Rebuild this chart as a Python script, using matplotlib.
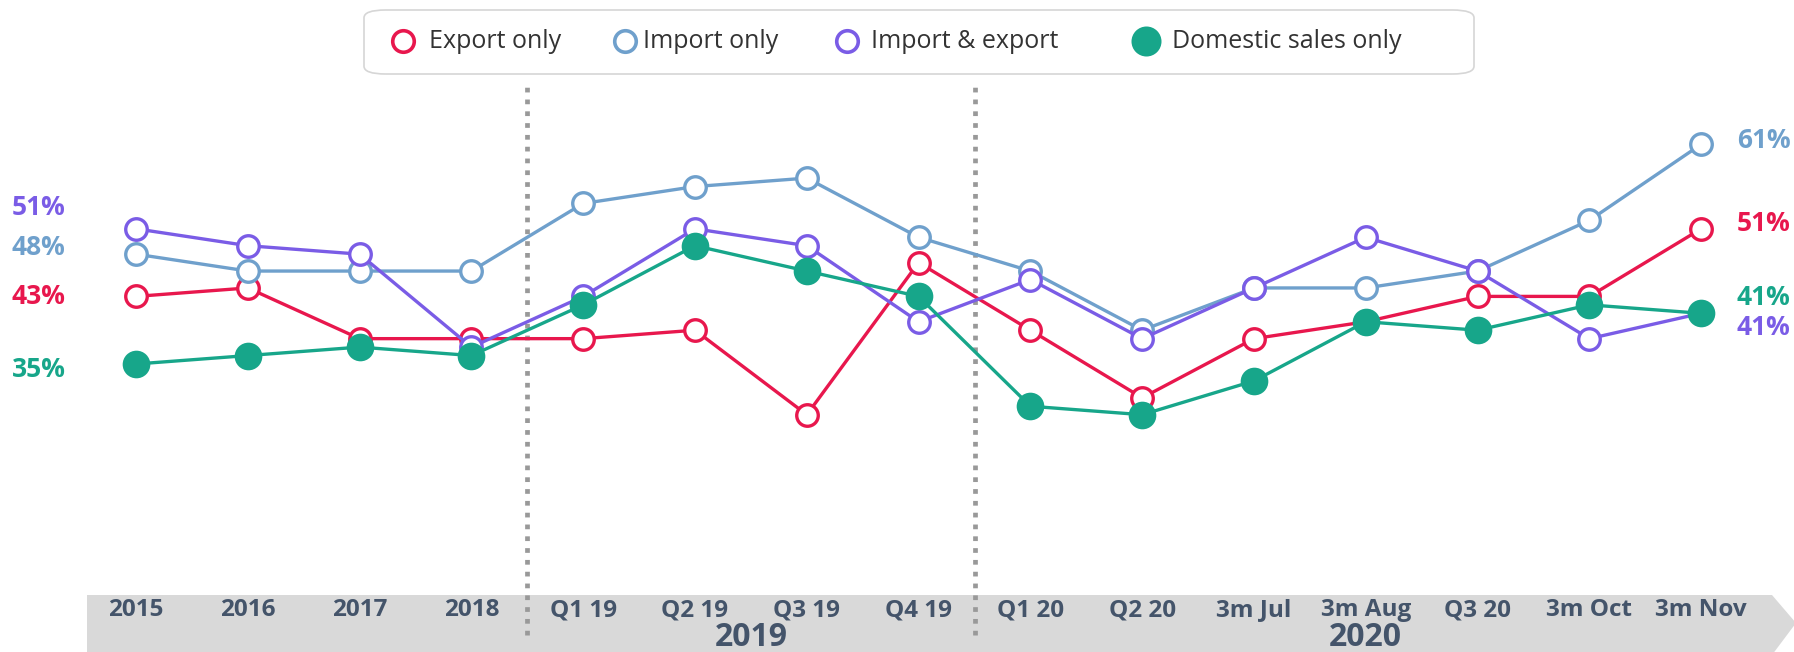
import matplotlib
matplotlib.use("Agg")
import matplotlib.pyplot as plt
from matplotlib.patches import Polygon, FancyBboxPatch
from matplotlib.lines import Line2D

plt.rcParams['font.family'] = ['Open Sans', 'DejaVu Sans']

# periods on the x axis
periods = ['2015', '2016', '2017', '2018', 'Q1 19', 'Q2 19', 'Q3 19', 'Q4 19',
           'Q1 20', 'Q2 20', '3m Jul', '3m Aug', 'Q3 20', '3m Oct', '3m Nov']
years = ['2019', '2020']

# share of firms (%)
export_only = [43, 44, 38, 38, 38, 39, 29, 47, 39, 31, 38, 40, 43, 43, 51]
import_only = [48, 46, 46, 46, 54, 56, 57, 50, 46, 39, 44, 44, 46, 52, 61]
import_export = [51, 49, 48, 37, 43, 51, 49, 40, 45, 38, 44, 50, 46, 38, 41]
domestic_only = [35, 36, 37, 36, 42, 49, 46, 43, 30, 29, 33, 40, 39, 42, 41]

RED = '#E8174D'
BLUE = '#6FA0CC'
PURPLE = '#7A5CE6'
TEAL = '#17A68A'
TICK = '#44546A'

W, H = 1794, 652
fig = plt.figure(figsize=(W / 100, H / 100), dpi=100)
ax = fig.add_axes([0, 0, 1, 1])
ax.set_axis_off()

# pixel mapping: index 0 at x=136px, step 111.8px; 35% at y=364px, 8.45px per point
step = 111.8
x0 = 136
ppt = 8.45
ax.set_xlim(-x0 / step, (W - x0) / step)
ax.set_ylim(35 - (H - 364) / ppt, 35 + 364 / ppt)

xs = list(range(len(periods)))
series = [
    ('Export only', export_only, RED, 'white'),
    ('Import only', import_only, BLUE, 'white'),
    ('Import & export', import_export, PURPLE, 'white'),
    ('Domestic sales only', domestic_only, TEAL, TEAL),
]


def px(xp, yp):
    return ((xp - x0) / step, 35 + (364 - yp) / ppt)


# grey arrow band at bottom
band = Polygon([px(87, 595), px(1772, 595), px(1796, 623), px(1772, 655), px(87, 655)],
               closed=True, facecolor='#D9D9D9', edgecolor='none', zorder=0)
ax.add_patch(band)

# dotted separators
ytop = px(0, 82)[1]
ybot = px(0, 635)[1]
for xv in [3.5, 7.5]:
    ax.plot([xv, xv], [ybot, ytop], color='#999999', lw=3.4,
            linestyle=(0, (1.0, 1.5)), zorder=1, solid_capstyle='butt')

for name, vals, col, fc in series:
    ms = 17.5 if fc != 'white' else 15.5
    ax.plot(xs, vals, color=col, lw=2.4, marker='o', markersize=ms,
            markerfacecolor=fc, markeredgecolor=col, markeredgewidth=2.4, zorder=3)

# tick labels on the band
for i, p in enumerate(periods):
    ax.text(i, px(0, 610)[1], p, ha='center', va='center',
            fontsize=17.5, fontweight='bold', color=TICK, zorder=5)
ax.text((4 + 7) / 2, px(0, 638)[1], years[0], ha='center', va='center',
        fontsize=23, fontweight='bold', color=TICK, zorder=5)
ax.text((8 + 14) / 2, px(0, 638)[1], years[1], ha='center', va='center',
        fontsize=23, fontweight='bold', color=TICK, zorder=5)

# start and end value labels
left_offsets = {'Export only': 0, 'Import only': 5, 'Import & export': 15.5,
                'Domestic sales only': -4}
right_offsets = {'Export only': 4, 'Import only': 3, 'Import & export': -10,
                 'Domestic sales only': 11.5}
for name, vals, col, fc in series:
    ax.annotate(f'{vals[0]}%', (0, vals[0]), xytext=(-70, left_offsets[name]),
                textcoords='offset points', ha='center', va='center',
                fontsize=19, fontweight='bold', color=col)
    ax.annotate(f'{vals[-1]}%', (len(vals) - 1, vals[-1]), xytext=(45, right_offsets[name]),
                textcoords='offset points', ha='center', va='center',
                fontsize=19, fontweight='bold', color=col)

# legend box drawn by hand
box = FancyBboxPatch((364 / W, 1 - 74 / H), 1110 / W, 64 / H,
                     boxstyle='round,pad=0,rounding_size=0.012',
                     transform=fig.transFigure, facecolor='white',
                     edgecolor='#D6D6D6', lw=1.2, zorder=10)
fig.patches.append(box)
marker_x = [403, 625, 847, 1146]
text_x = [429, 643, 871, 1172]
ly = 1 - 41 / H
for (name, vals, col, fc), mx, tx in zip(series, marker_x, text_x):
    ms = 19 if fc != 'white' else 15.5
    fig.add_artist(Line2D([mx / W], [ly], transform=fig.transFigure, marker='o',
                          markersize=ms, markerfacecolor=fc, markeredgecolor=col,
                          markeredgewidth=2.6, lw=0, zorder=11))
    fig.text(tx / W, ly, name, ha='left', va='center', fontsize=18,
             color='#333333', zorder=11)

fig.savefig('out.png', dpi=100)
